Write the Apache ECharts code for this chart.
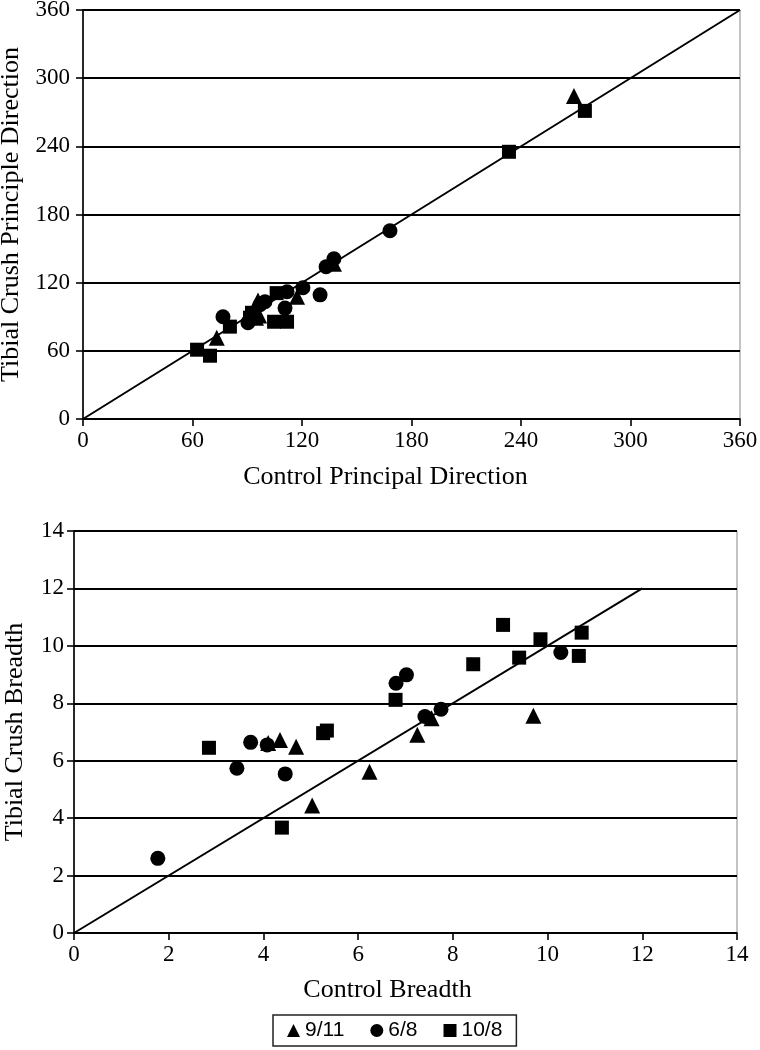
<!DOCTYPE html>
<html><head><meta charset="utf-8">
<script src="https://cdn.jsdelivr.net/npm/echarts@6/dist/echarts.min.js"></script>
<style>html,body{margin:0;padding:0;background:#fff}#c{width:760px;height:1050px}</style>
</head><body><div id="c"></div>
<script>
// Top chart: principal direction (degrees)
const dirTicks = [0, 60, 120, 180, 240, 300, 360];
const dir_911 = [[73.3,71.5],[94.8,89.2],[95.9,104.4],[117.3,107.6],[137.5,136.6],[269,284.4],[96.5,91]];
const dir_68 = [[76.7,90.0],[90.4,84.8],[97,100.5],[99.7,103.2],[110.7,97.6],[111.8,112],[120.5,115.5],[129.9,109.3],[133.2,134],[137.5,141],[168.2,165.7]];
const dir_108 = [[62.5,61.0],[69.6,55.7],[80.5,81.3],[91.5,89.2],[92.6,93.5],[104.7,85.6],[111.8,85.6],[106.1,110.8],[233.4,235.2],[275,271.2]];
const dirLine = [[0,0],[360,360]];
// Bottom chart: breadth
const brTicks = [0, 2, 4, 6, 8, 10, 12, 14];
const br_911 = [[4.1,6.62],[4.35,6.72],[4.69,6.49],[5.03,4.44],[6.24,5.62],[7.25,6.90],[7.55,7.48],[9.70,7.57]];
const br_68 = [[1.77,2.60],[3.44,5.74],[3.73,6.64],[4.08,6.55],[4.46,5.54],[6.80,8.70],[7.02,8.99],[7.41,7.54],[7.75,7.79],[10.28,9.77]];
const br_108 = [[2.85,6.45],[4.39,3.67],[5.26,6.96],[5.34,7.05],[6.79,8.12],[8.43,9.36],[9.06,10.73],[9.40,9.59],[9.85,10.23],[10.66,9.65],[10.72,10.46]];
const brLine = [[0,0],[12,12]];
const names = ['9/11', '6/8', '10/8'];

const serif = 'Liberation Serif';
const ink = '#000';
function xAx(idx, max, interval, name, gap, shift) {
  return {gridIndex: idx, type: 'value', min: 0, max: max, interval: interval,
    name: name, nameLocation: 'middle', nameGap: gap,
    nameTextStyle: {fontFamily: serif, fontSize: 26, color: ink, padding: [0, shift, 0, 0]},
    axisLine: {show: true, onZero: false, lineStyle: {color: ink, width: 1.6}},
    axisTick: {show: true, inside: false, length: 7, lineStyle: {color: ink, width: 1.6}},
    axisLabel: {fontFamily: serif, fontSize: 23, color: ink, margin: 10},
    splitLine: {show: false}};
}
function yAx(idx, max, interval, name, gap, margin) {
  return {gridIndex: idx, type: 'value', min: 0, max: max, interval: interval,
    name: name, nameLocation: 'middle', nameGap: gap,
    nameTextStyle: {fontFamily: serif, fontSize: 26, color: ink},
    axisLine: {show: true, onZero: false, lineStyle: {color: ink, width: 1.6}},
    axisTick: {show: true, inside: false, length: 7, lineStyle: {color: ink, width: 1.6}},
    axisLabel: {fontFamily: serif, fontSize: 23, color: ink, margin: margin},
    splitLine: {show: true, lineStyle: {color: ink, width: 1.8}}};
}
const sym = {'9/11': ['triangle', 16], '6/8': ['circle', 15], '10/8': ['rect', 14]};
function sc(name, data, idx) {
  return {type: 'scatter', name: name, xAxisIndex: idx, yAxisIndex: idx, data: data,
    symbol: sym[name][0], symbolSize: sym[name][1], itemStyle: {color: ink, opacity: 1}, z: 3};
}
function ln(data, idx) {
  return {type: 'line', name: 'diag' + idx, xAxisIndex: idx, yAxisIndex: idx, data: data,
    showSymbol: false, symbol: 'none', lineStyle: {color: ink, width: 2}, z: 2, silent: true};
}
const chart = echarts.init(document.getElementById('c'), null, {renderer: 'canvas'});
chart.setOption({
  animation: false,
  backgroundColor: '#fff',
  grid: [
    {left: 83, top: 10, width: 657, height: 409, show: true, borderColor: '#888', borderWidth: 1, containLabel: false, outerBoundsMode: 'none'},
    {left: 74, top: 531, width: 663, height: 402, show: true, borderColor: '#888', borderWidth: 1, containLabel: false, outerBoundsMode: 'none'}
  ],
  xAxis: [xAx(0, 360, 60, 'Control Principal Direction', 45, 52), xAx(1, 14, 2, 'Control Breadth', 44, 36)],
  yAxis: [yAx(0, 360, 60, 'Tibial Crush Principle Direction', 52, 13), yAx(1, 14, 2, 'Tibial Crush Breadth', 46, 10)],
  legend: {
    data: names.map((n) => ({name: n, icon: sym[n][0]})),
    top: 1015, left: 273, itemWidth: 13, itemHeight: 13, itemGap: 26,
    borderColor: '#222', borderWidth: 1.5, padding: [5, 14, 5, 14],
    textStyle: {fontFamily: 'Liberation Sans', fontSize: 21, color: ink},
    selectedMode: false
  },
  series: [
    ln(dirLine, 0), ln(brLine, 1),
    sc('9/11', dir_911, 0), sc('6/8', dir_68, 0), sc('10/8', dir_108, 0),
    sc('9/11', br_911, 1), sc('6/8', br_68, 1), sc('10/8', br_108, 1)
  ]
});
</script></body></html>
